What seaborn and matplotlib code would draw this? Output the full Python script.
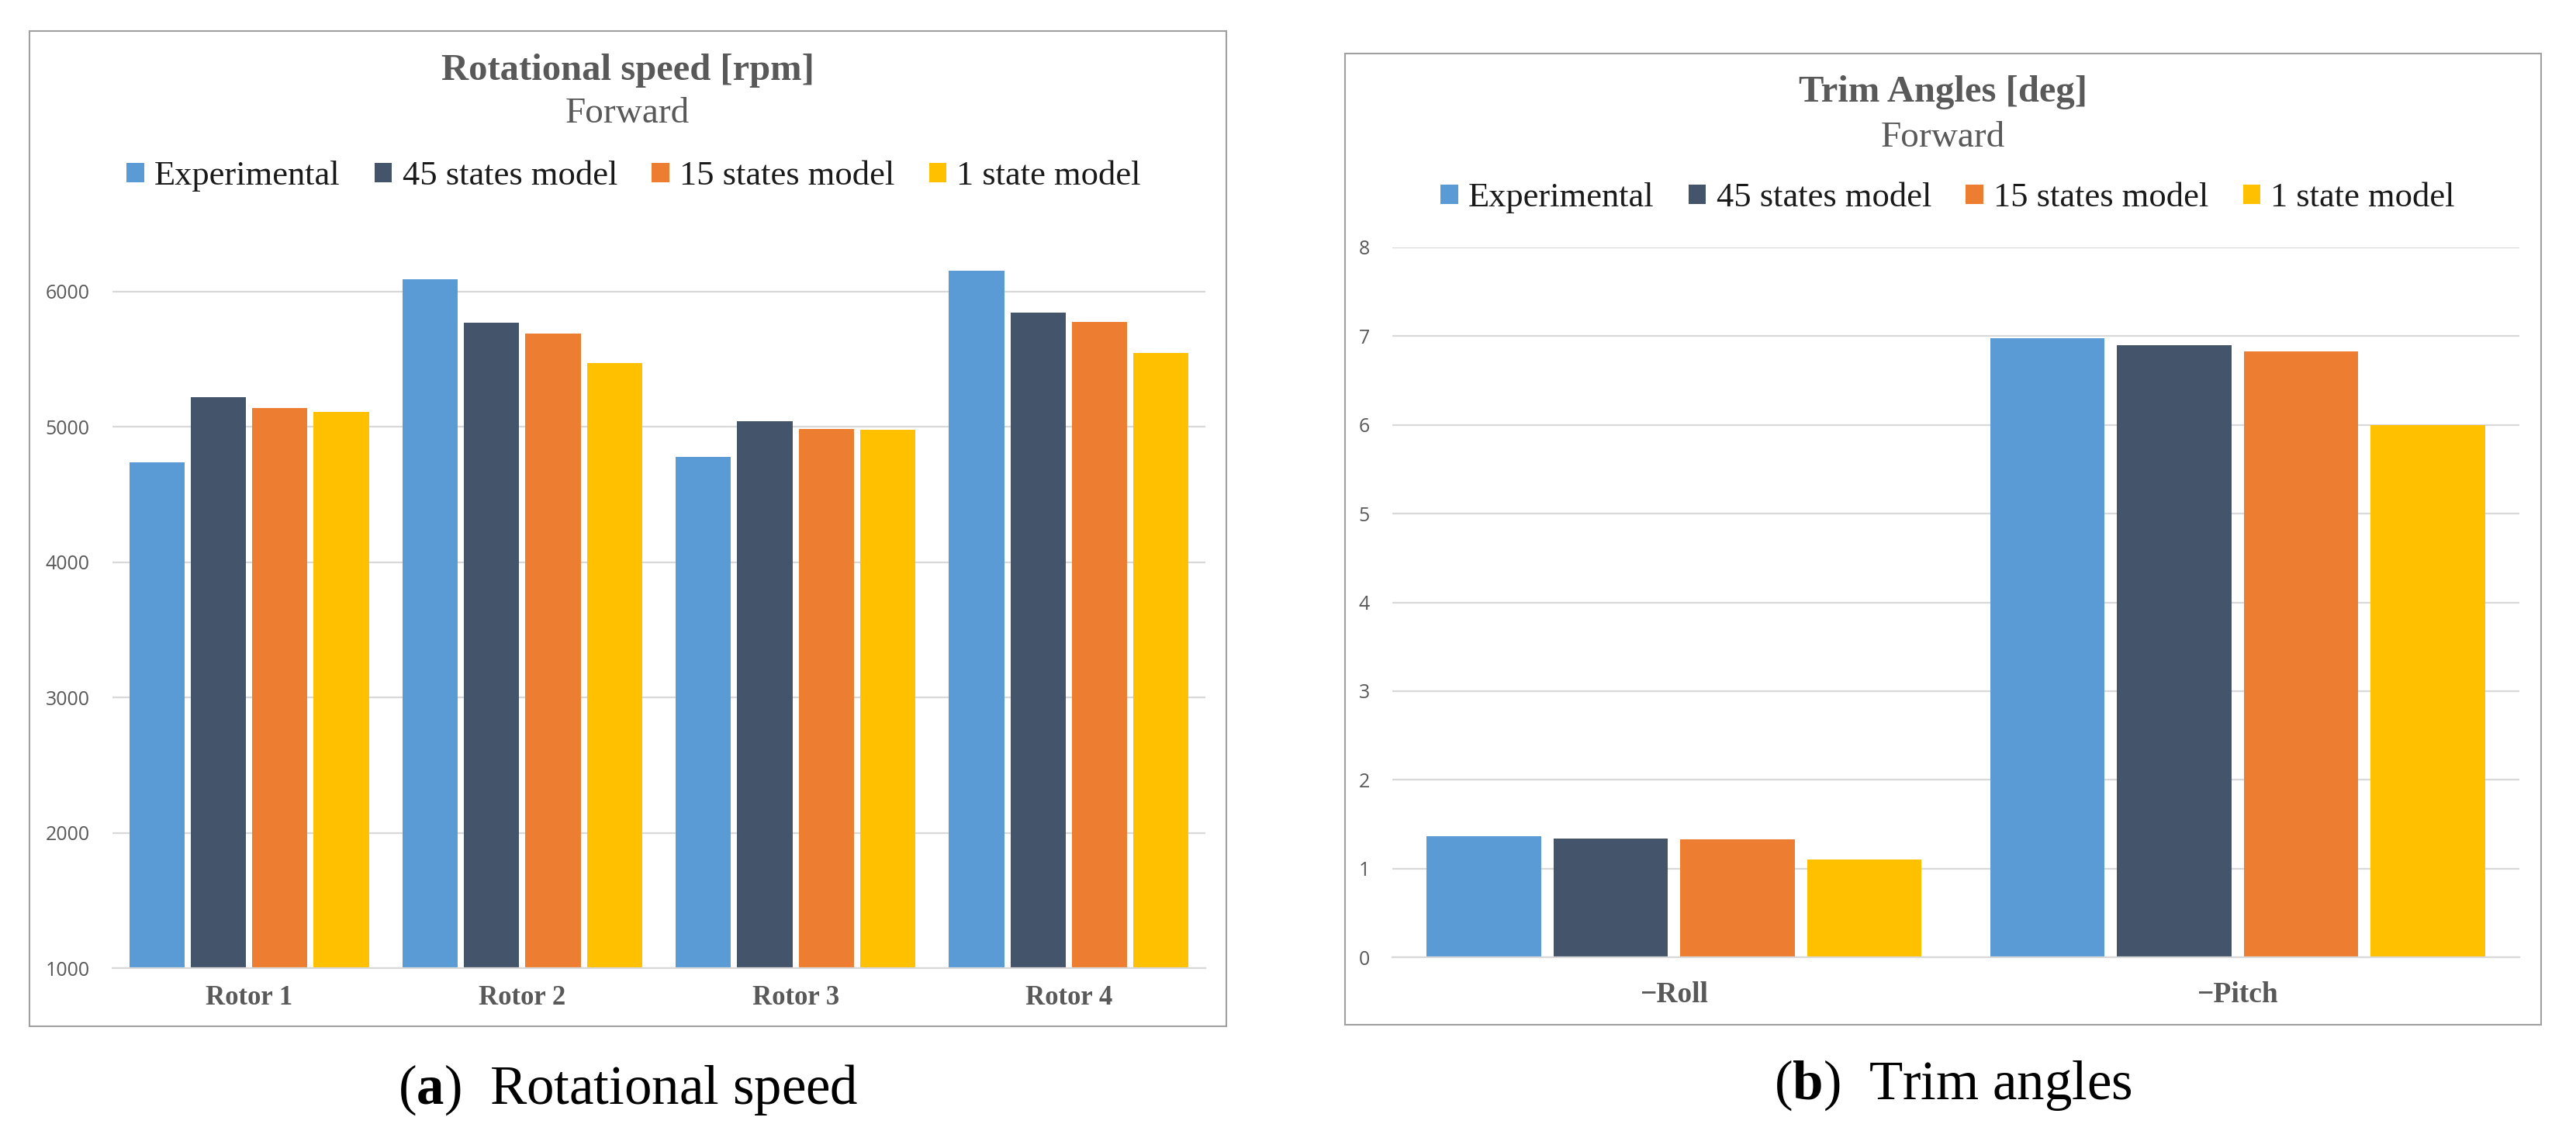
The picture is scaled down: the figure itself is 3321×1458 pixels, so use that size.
import numpy as np
import pandas as pd
import matplotlib
matplotlib.use("Agg")
import matplotlib.pyplot as plt
import seaborn as sns
from matplotlib.patches import Patch, Rectangle

models = ["Experimental", "45 states model", "15 states model", "1 state model"]
colors = ["#5B9BD5", "#44546A", "#ED7D31", "#FFC000"]

rotors = ["Rotor 1", "Rotor 2", "Rotor 3", "Rotor 4"]
rpm_exp = [4740, 6090, 4780, 6155]
rpm_45 = [5220, 5768, 5044, 5846]
rpm_15 = [5138, 5690, 4983, 5778]
rpm_1 = [5111, 5472, 4977, 5548]

angles = ["\u2212Roll", "\u2212Pitch"]
deg_exp = [1.36, 6.98]
deg_45 = [1.34, 6.90]
deg_15 = [1.33, 6.83]
deg_1 = [1.10, 6.00]

rpm_ticks = [1000, 2000, 3000, 4000, 5000, 6000]
deg_ticks = [0, 1, 2, 3, 4, 5, 6, 7, 8]

sns.set_theme(style="white")
plt.rcParams["font.family"] = ["Liberation Serif", "DejaVu Serif"]
plt.rcParams["mathtext.fontset"] = "custom"
plt.rcParams["mathtext.rm"] = "Liberation Serif"
plt.rcParams["mathtext.bf"] = "Liberation Serif:bold"

W, H = 3321, 1458
fig = plt.figure(figsize=(W / 100, H / 100), dpi=100)
fig.patch.set_facecolor("white")


def fx(px):
    return px / W


def fy(py):
    return 1 - py / H


def long_table(cats, series, cat_name, val_name):
    rows = []
    for m, vals in zip(models, series):
        for c, v in zip(cats, vals):
            rows.append({cat_name: c, val_name: v, "model": m})
    return pd.DataFrame(rows)


# panel frames
fig.add_artist(Rectangle((fx(38), fy(1323)), fx(1543), (1323 - 40) / H,
                         transform=fig.transFigure, fill=False,
                         edgecolor="#A0A0A0", linewidth=1.5))
fig.add_artist(Rectangle((fx(1734), fy(1321)), fx(1542), (1321 - 69) / H,
                         transform=fig.transFigure, fill=False,
                         edgecolor="#A0A0A0", linewidth=1.5))

grid_c = "#D9D9D9"
tick_c = "#595959"


def style_axes(ax, ticks, pad_x):
    ax.set_facecolor("white")
    for s in ["top", "right", "left"]:
        ax.spines[s].set_visible(False)
    ax.spines["bottom"].set_color(grid_c)
    ax.spines["bottom"].set_linewidth(1.6)
    ax.set_yticks(ticks)
    ax.yaxis.grid(True, color=grid_c, linewidth=1.6)
    ax.set_axisbelow(True)
    ax.tick_params(axis="both", length=0)
    ax.tick_params(axis="y", pad=21, labelsize=18, labelcolor=tick_c)
    ax.tick_params(axis="x", pad=pad_x, labelcolor=tick_c)
    for lab in ax.get_yticklabels():
        lab.set_fontfamily(["Open Sans", "DejaVu Sans"])
    ax.set_xlabel("")
    ax.set_ylabel("")


# (a) rotational speed
ax1 = fig.add_axes([fx(145), fy(1248), fx(1409), (1248 - 306) / H])
df1 = long_table(rotors, [rpm_exp, rpm_45, rpm_15, rpm_1], "rotor", "rpm")
sns.barplot(data=df1, x="rotor", y="rpm", hue="model", palette=colors,
            width=0.9, gap=0.1, saturation=1, linewidth=0, legend=False,
            errorbar=None, ax=ax1)
ax1.set_ylim(1000, 6400)
ax1.set_xlim(-0.5, 3.5)
style_axes(ax1, rpm_ticks, 16)
for lab in ax1.get_xticklabels():
    lab.set_fontweight("bold")
    lab.set_fontsize(25)

# (b) trim angles
ax2 = fig.add_axes([fx(1795), fy(1234), fx(1453), (1234 - 319) / H])
df2 = long_table(angles, [deg_exp, deg_45, deg_15, deg_1], "angle", "deg")
sns.barplot(data=df2, x="angle", y="deg", hue="model", palette=colors,
            width=0.9, gap=0.1, saturation=1, linewidth=0, legend=False,
            errorbar=None, ax=ax2)
ax2.set_ylim(0, 8)
ax2.set_xlim(-0.5, 1.5)
style_axes(ax2, deg_ticks, 22)
for lab in ax2.get_xticklabels():
    lab.set_fontweight("bold")
    lab.set_fontsize(27)
    lab.set_fontfamily(["Liberation Serif", "DejaVu Sans"])

# titles
title_c = "#595959"
fig.text(fx(809), fy(91), "Rotational speed [rpm]", ha="center", va="center",
         fontsize=35, fontweight="bold", color=title_c)
fig.text(fx(809), fy(147), "Forward", ha="center", va="center",
         fontsize=34, color=title_c)
fig.text(fx(2505), fy(119), "Trim Angles [deg]", ha="center", va="center",
         fontsize=35, fontweight="bold", color=title_c)
fig.text(fx(2505), fy(178), "Forward", ha="center", va="center",
         fontsize=34, color=title_c)

# legends
handles = [Patch(facecolor=c, edgecolor="none", label=m) for m, c in zip(models, colors)]
for cx, cy in [(817, 227), (2511, 255)]:
    fig.legend(handles=handles, loc="center", bbox_to_anchor=(fx(cx), fy(cy)),
               ncol=4, frameon=False, fontsize=32, handlelength=0.5,
               handleheight=0.5, handletextpad=0.3, columnspacing=1.0,
               labelcolor="#1A1A1A", borderpad=0)

# captions
fig.text(fx(810), fy(1405), r"($\mathbf{a}$)  Rotational speed", ha="center",
         va="center", fontsize=51, color="black")
fig.text(fx(2518), fy(1399), r"($\mathbf{b}$)  Trim angles", ha="center",
         va="center", fontsize=51, color="black")

fig.savefig("out.png", dpi=100, facecolor="white")
